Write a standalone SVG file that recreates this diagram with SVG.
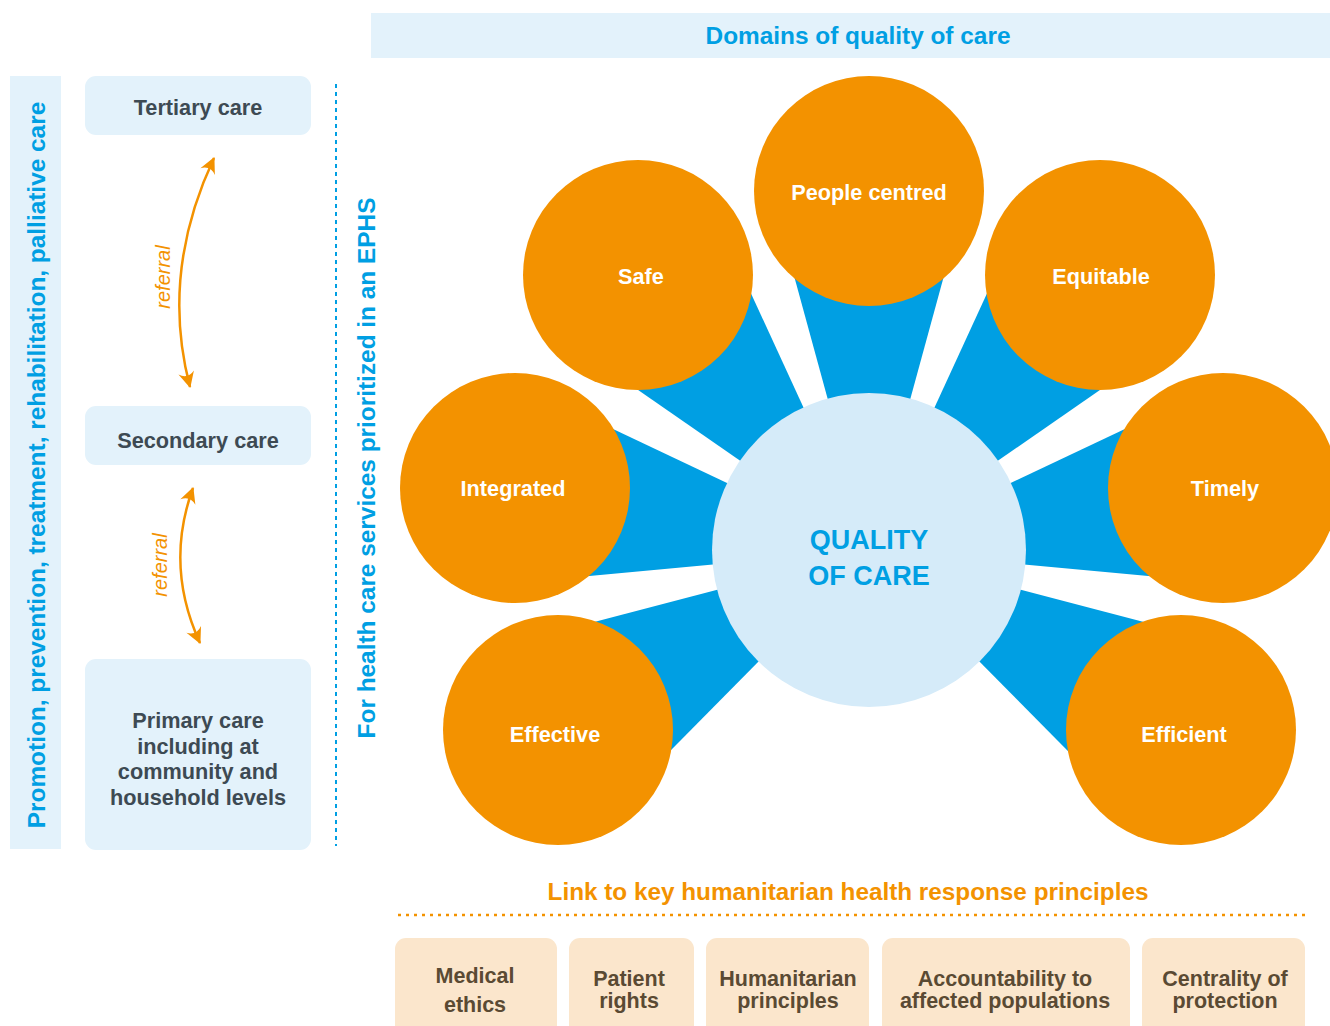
<svg xmlns="http://www.w3.org/2000/svg" width="1330" height="1026" viewBox="0 0 1330 1026">
<defs>
<style>
.band{fill:#e3f2fb}
.box{fill:#e3f2fb}
.pbox{fill:#fbe6cc}
.t{font-family:"Liberation Sans",Arial,sans-serif;font-weight:bold;text-anchor:middle}
.dark{fill:#3d4a53;font-size:21.7px}
.blue{fill:#009fe3}
.org{fill:#f39200}
.brown{fill:#5a4a33;font-size:21.5px}
.w{fill:#ffffff;font-size:21.7px}
.wedge{fill:#009fe3}
.dom{fill:#f39200}
.ref{font-family:"Liberation Sans",Arial,sans-serif;font-style:italic;font-size:20px;fill:#f39200;text-anchor:middle}
.arr{fill:none;stroke:#f39200;stroke-width:2.5}
</style>
<marker id="ah" viewBox="-16 -9 18 18" markerWidth="18" markerHeight="18" refX="0" refY="0" orient="auto-start-reverse" markerUnits="userSpaceOnUse">
<path d="M1,0 L-15,-8 Q-8,0 -15,8 Z" fill="#f39200"/>
</marker>
</defs>

<rect class="band" x="371" y="13" width="959" height="45"/>
<text class="t blue" x="858" y="44" font-size="24.4">Domains of quality of care</text>

<g id="left-band">
<rect class="band" x="10" y="76" width="51" height="773"/>
<text class="t blue" font-size="24.4" transform="translate(45,465) rotate(-90)">Promotion, prevention, treatment, rehabilitation, palliative care</text>
</g>

<g id="tertiary">
<rect class="box" x="85" y="76" width="226" height="59" rx="11"/>
<text class="t dark" x="198" y="115">Tertiary care</text>
</g>
<g id="secondary">
<rect class="box" x="85" y="406" width="226" height="59" rx="11"/>
<text class="t dark" x="198" y="448">Secondary care</text>
</g>
<g id="primary">
<rect class="box" x="85" y="659" width="226" height="191" rx="11"/>
<text class="t dark" x="198" y="728">Primary care</text>
<text class="t dark" x="198" y="754">including at</text>
<text class="t dark" x="198" y="779">community and</text>
<text class="t dark" x="198" y="805">household levels</text>
</g>

<g id="connectors">
<path class="arr" d="M214,158 Q160,273 190,387" marker-start="url(#ah)" marker-end="url(#ah)"/>
<path class="arr" d="M193,488 Q164.5,566 200,643" marker-start="url(#ah)" marker-end="url(#ah)"/>
</g>
<text class="ref" transform="translate(170,277) rotate(-90)">referral</text>
<text class="ref" transform="translate(167,565) rotate(-90)">referral</text>

<line x1="336" y1="84" x2="336" y2="846" stroke="#009fe3" stroke-width="2" stroke-dasharray="4 4"/>
<text class="t blue" font-size="24.4" transform="translate(375,468) rotate(-90)">For health care services prioritized in an EPHS</text>

<g id="wedges">
<polygon class="wedge" points="869,550 774.3,203.7 963.7,203.7"/>
<polygon class="wedge" points="869,550 573.9,345.6 719.0,223.8"/>
<polygon class="wedge" points="869,550 1019.0,223.8 1164.1,345.6"/>
<polygon class="wedge" points="869,550 511.5,583.2 544.4,396.6"/>
<polygon class="wedge" points="869,550 1193.6,396.6 1226.5,583.2"/>
<polygon class="wedge" points="869,550 521.7,641.1 616.5,805.2"/>
<polygon class="wedge" points="869,550 1121.5,805.2 1216.3,641.1"/>
</g>

<g id="center">
<circle cx="869" cy="550" r="157" fill="#d5ebf9"/>
<text class="t blue" x="869" y="549" font-size="27">QUALITY</text>
<text class="t blue" x="869" y="585" font-size="27">OF CARE</text>
</g>

<g id="people-centred"><circle class="dom" cx="869" cy="191" r="115"/><text class="t w" x="869" y="200">People centred</text></g>
<g id="safe"><circle class="dom" cx="638" cy="275" r="115"/><text class="t w" x="641" y="284">Safe</text></g>
<g id="equitable"><circle class="dom" cx="1100" cy="275" r="115"/><text class="t w" x="1101" y="284">Equitable</text></g>
<g id="integrated"><circle class="dom" cx="515" cy="488" r="115"/><text class="t w" x="513" y="496">Integrated</text></g>
<g id="timely"><circle class="dom" cx="1223" cy="488" r="115"/><text class="t w" x="1225" y="496">Timely</text></g>
<g id="effective"><circle class="dom" cx="558" cy="730" r="115"/><text class="t w" x="555" y="742">Effective</text></g>
<g id="efficient"><circle class="dom" cx="1181" cy="730" r="115"/><text class="t w" x="1184" y="742">Efficient</text></g>

<text class="t org" x="848" y="900" font-size="24.3">Link to key humanitarian health response principles</text>
<line x1="398" y1="915" x2="1306" y2="915" stroke="#f39200" stroke-width="2.5" stroke-dasharray="3 5"/>

<g id="medical-ethics"><rect class="pbox" x="395" y="938" width="162" height="110" rx="11"/><text class="t brown" x="475" y="983">Medical</text><text class="t brown" x="475" y="1012">ethics</text></g>
<g id="patient-rights"><rect class="pbox" x="569" y="938" width="125" height="110" rx="11"/><text class="t brown" x="629" y="986">Patient</text><text class="t brown" x="629" y="1008">rights</text></g>
<g id="humanitarian-principles"><rect class="pbox" x="706" y="938" width="163" height="110" rx="11"/><text class="t brown" x="788" y="986">Humanitarian</text><text class="t brown" x="788" y="1008">principles</text></g>
<g id="accountability"><rect class="pbox" x="882" y="938" width="248" height="110" rx="11"/><text class="t brown" x="1005" y="986">Accountability to</text><text class="t brown" x="1005" y="1008">affected populations</text></g>
<g id="centrality"><rect class="pbox" x="1142" y="938" width="163" height="110" rx="11"/><text class="t brown" x="1225" y="986">Centrality of</text><text class="t brown" x="1225" y="1008">protection</text></g>
</svg>
